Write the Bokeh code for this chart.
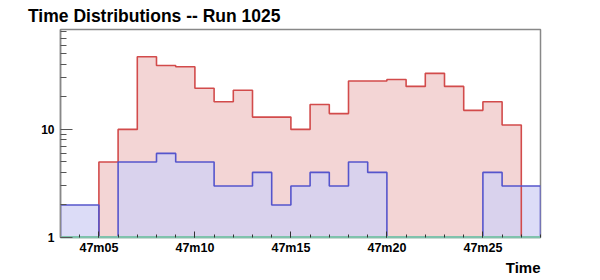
from bokeh.plotting import figure
from bokeh.models import Range1d, FixedTicker, Title
from bokeh.embed import file_html
from bokeh.resources import INLINE

# ---- data (1-second bins, x in seconds after the start of the hour: 47m03 .. 47m28)
bin_start = 2823          # 47m03
bin_width = 1
red_counts = [0, 0, 5, 10, 47, 39, 38, 24, 18, 23, 13, 13, 10, 17, 14, 28, 28, 29, 25, 33, 25, 15, 18, 11, 0]
blue_counts = [2, 2, 0, 5, 5, 6, 5, 5, 3, 3, 4, 2, 3, 4, 3, 5, 4, 0, 0, 0, 0, 0, 4, 3, 3]
green_counts = [0] * 25
tick_values = [2825, 2830, 2835, 2840, 2845]
tick_labels = ["47m05", "47m10", "47m15", "47m20", "47m25"]
y_min, y_max = 1, 84
title_text = "Time Distributions -- Run 1025"
x_title = "Time"

n = len(red_counts)
edges = [bin_start + i * bin_width for i in range(n + 1)]


def outline(counts):
    xs, ys = [edges[0]], [y_min]
    for i, c in enumerate(counts):
        v = c if c > 0 else y_min
        xs += [edges[i], edges[i + 1]]
        ys += [v, v]
    xs.append(edges[-1])
    ys.append(y_min)
    return xs, ys


FONT = "Liberation Sans"

p = figure(width=600, height=280, y_axis_type="log",
           x_range=Range1d(edges[0], edges[-1]), y_range=Range1d(y_min, y_max),
           output_backend="svg", toolbar_location=None,
           min_border_left=60, min_border_right=60, min_border_top=29, min_border_bottom=43)
p.background_fill_color = "white"
p.border_fill_color = "white"
p.outline_line_color = "#888888"
p.outline_line_width = 1.5
p.xgrid.visible = False
p.ygrid.visible = False

RED_FILL = "#f3d5d5"
RED_LINE = "#d24b4b"
BLUE_FILL = "#d0d0f4"
BLUE_LINE = "#5555cc"

rx, ry = outline(red_counts)
bx, by = outline(blue_counts)
p.patch(rx, ry, fill_color=RED_FILL, line_color=None)
p.patch(bx, by, fill_color=BLUE_FILL, fill_alpha=0.75, line_color=None)
p.line(rx, ry, line_color=RED_LINE, line_width=1.6)
p.line(bx, by, line_color=BLUE_LINE, line_width=1.6)
gx, gy = outline(green_counts)
p.line(gx, gy, line_color="#7fc2ad", line_width=3)

# x axis
xa = p.xaxis[0]
xa.ticker = FixedTicker(ticks=tick_values, minor_ticks=edges)
xa.major_label_overrides = {v: s for v, s in zip(tick_values, tick_labels)}
xa.major_tick_in = 6
xa.major_tick_out = 0
xa.minor_tick_in = 3
xa.minor_tick_out = 0
xa.major_tick_line_color = "#333333"
xa.minor_tick_line_color = "#333333"
xa.axis_line_color = "#7fc2ad"
xa.axis_line_width = 1.5
xa.major_label_text_font = FONT
xa.major_label_text_font_style = "bold"
xa.major_label_text_font_size = "12.5px"
xa.major_label_text_color = "black"
xa.major_label_standoff = 3

# y axis
ya = p.yaxis[0]
ya.ticker = FixedTicker(ticks=[1, 10],
                        minor_ticks=[2, 3, 4, 5, 6, 7, 8, 9, 20, 30, 40, 50, 60, 70, 80])
ya.major_label_overrides = {1: "1", 10: "10"}
ya.major_tick_in = 12
ya.major_tick_out = 0
ya.minor_tick_in = 6
ya.minor_tick_out = 0
ya.major_tick_line_color = "#555555"
ya.minor_tick_line_color = "#555555"
ya.axis_line_color = "#888888"
ya.axis_line_width = 1.5
ya.major_label_text_font = FONT
ya.major_label_text_font_style = "bold"
ya.major_label_text_font_size = "12px"
ya.major_label_text_color = "black"
ya.major_label_standoff = 6

p.title.text = title_text
p.title.align = "left"
p.title.offset = -32.5
p.title.standoff = 7
p.title.text_font = FONT
p.title.text_font_style = "bold"
p.title.text_font_size = "17.5px"
p.title.text_color = "black"

p.add_layout(Title(text=x_title, align="right", offset=0, standoff=-2,
                   text_font=FONT, text_font_style="bold", text_font_size="15px",
                   text_color="black"), "below")

open("out.html", "w").write(file_html(p, INLINE))
